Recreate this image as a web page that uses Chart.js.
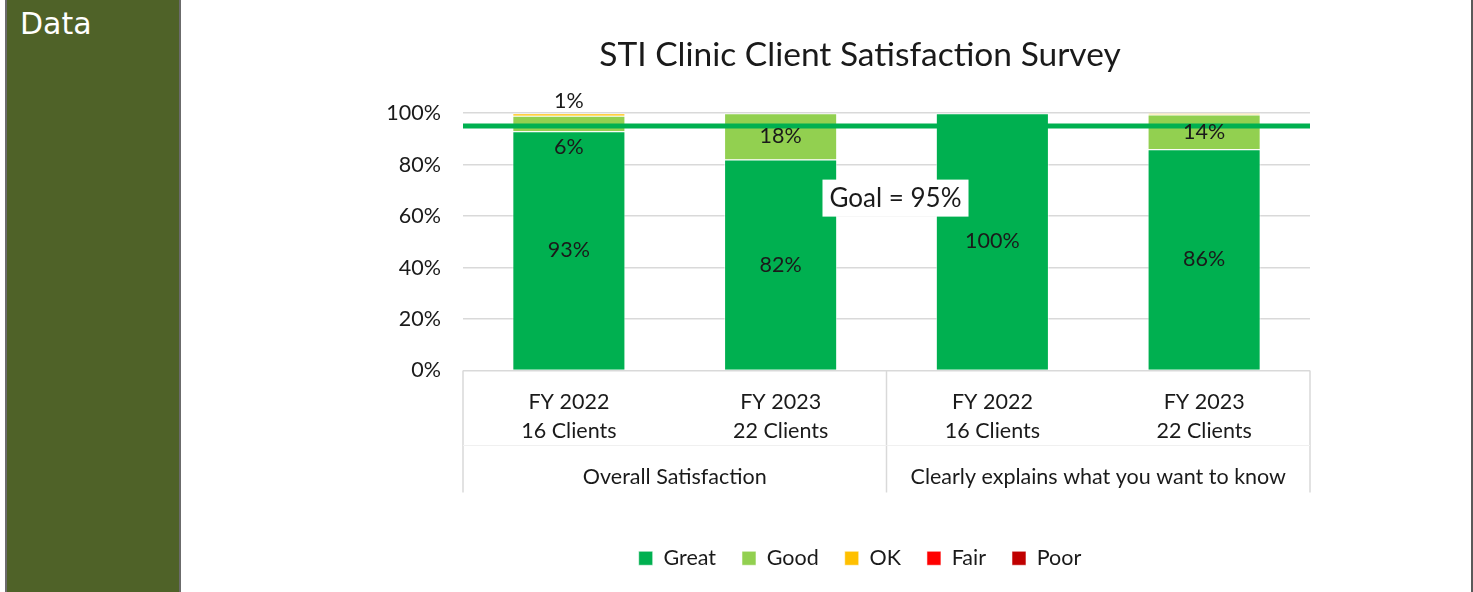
<!DOCTYPE html>
<html>
<head>
<meta charset="utf-8">
<script src="https://cdn.jsdelivr.net/npm/chart.js@4.4.1/dist/chart.umd.min.js"></script>
<style>
  html, body { margin: 0; padding: 0; background: #ffffff; }
  body { width: 1473px; height: 592px; position: relative; overflow: hidden; }
  #panel { position: absolute; left: 5px; top: 0; width: 172px; height: 592px; background: #4F6228;
           border-left: 2px solid #6b6b6b; border-right: 2px solid #6b6b6b; }
  #panel span { position: absolute; left: 13px; top: 6px; color: #ffffff; font-family: "DejaVu Sans", sans-serif; font-size: 30px; }
  #rightEdge { position: absolute; left: 1471px; top: 0; width: 2px; height: 592px; background: #5a5a5a; }
  #wrap { position: absolute; left: 250px; top: 0; width: 1220px; height: 592px; }
</style>
</head>
<body>
<div id="panel"><span>Data</span></div>
<div id="rightEdge"></div>
<div id="wrap"><canvas id="c"></canvas></div>
<script>
// ---- data ----
const categories = [["FY 2022", "16 Clients"], ["FY 2023", "22 Clients"], ["FY 2022", "16 Clients"], ["FY 2023", "22 Clients"]];
const groups = ["Overall Satisfaction", "Clearly explains what you want to know"];
const seriesNames = ["Great", "Good", "OK", "Fair", "Poor"];
const great = [93, 82, 100, 86];
const good  = [6, 18, 0, 13.5];
const ok    = [1, 0, 0, 0.5];
const fair  = [0, 0, 0, 0];
const poor  = [0, 0, 0, 0];
const goal = 95;
const goalLabel = "Goal = 95%";
const titleText = "STI Clinic Client Satisfaction Survey";

const colors = ["#00B050", "#92D050", "#FFC000", "#FF0000", "#C00000"];
const FONT = "Lato, 'Liberation Sans', sans-serif";
const TXT = "#1a1a1a";

const seriesValues = [great, good, ok, fair, poor];

const goalPlugin = {
  id: 'goalPlugin',
  afterDatasetsDraw(chart) {
    const { ctx, chartArea, scales } = chart;
    const y = scales.y.getPixelForValue(goal);
    ctx.save();
    ctx.strokeStyle = "#00B050";
    ctx.lineWidth = 5;
    ctx.beginPath();
    ctx.moveTo(chartArea.left, y);
    ctx.lineTo(chartArea.right, y);
    ctx.stroke();
    ctx.restore();
  }
};

const labelPlugin = {
  id: 'labelPlugin',
  afterDatasetsDraw(chart, args, opts) {
    const { ctx, scales } = chart;
    ctx.save();
    ctx.font = "21.5px " + FONT;
    ctx.fillStyle = TXT;
    ctx.textAlign = "center";
    ctx.textBaseline = "middle";
    chart.data.datasets.forEach((ds, di) => {
      const meta = chart.getDatasetMeta(di);
      meta.data.forEach((bar, i) => {
        const v = ds.data[i];
        if (!v || v < 1) return;
        let y;
        if (v < 3) {
          const total = seriesValues.reduce((s, arr) => s + arr[i], 0);
          y = scales.y.getPixelForValue(total) - 12;
        } else {
          y = (bar.y + bar.base) / 2;
        }
        const key = di + "-" + i;
        if (opts.nudge && opts.nudge[key]) y += opts.nudge[key];
        ctx.fillText(Math.round(v) + "%", bar.x, y);
      });
    });
    ctx.restore();
  }
};

const goalBoxPlugin = {
  id: 'goalBoxPlugin',
  afterDraw(chart, args, opts) {
    const { ctx, chartArea, scales } = chart;
    const cx = (chartArea.left + chartArea.right) / 2 + opts.dx;
    const cy = scales.y.getPixelForValue(opts.yValue);
    ctx.save();
    ctx.font = "26px " + FONT;
    const w = ctx.measureText(goalLabel).width + 14;
    const h = 37;
    ctx.fillStyle = "#ffffff";
    ctx.fillRect(cx - w / 2, cy - h / 2, w, h);
    ctx.fillStyle = TXT;
    ctx.textAlign = "center";
    ctx.textBaseline = "middle";
    ctx.fillText(goalLabel, cx, cy + 1);
    ctx.restore();
  }
};

const separatorPlugin = {
  id: 'separatorPlugin',
  afterDraw(chart) {
    const { ctx, chartArea, scales } = chart;
    const bottom = scales.x2.top + 38;
    const mid = (chartArea.left + chartArea.right) / 2;
    ctx.save();
    ctx.strokeStyle = "#d9d9d9";
    ctx.lineWidth = 1.5;
    [chartArea.left, mid, chartArea.right].forEach(x => {
      ctx.beginPath();
      ctx.moveTo(x, chartArea.bottom);
      ctx.lineTo(x, bottom);
      ctx.stroke();
    });
    ctx.strokeStyle = "#f0f0f0";
    ctx.lineWidth = 1;
    ctx.beginPath();
    ctx.moveTo(chartArea.left, scales.x.bottom - 9);
    ctx.lineTo(chartArea.right, scales.x.bottom - 9);
    ctx.stroke();
    ctx.restore();
  }
};

new Chart(document.getElementById('c'), {
  type: 'bar',
  data: {
    labels: categories,
    datasets: seriesNames.map((name, k) => ({
      label: name,
      data: seriesValues[k],
      backgroundColor: colors[k],
      borderColor: "rgba(255,255,255,0.55)",
      borderWidth: 1,
      barPercentage: 0.534,
      categoryPercentage: 1.0
    }))
  },
  options: {
    responsive: true,
    maintainAspectRatio: false,
    animation: false,
    layout: { padding: { left: 0, right: 0, top: 0, bottom: 13 } },
    plugins: {
      title: {
        display: true, text: titleText, color: TXT,
        font: { family: FONT, size: 33.5, weight: 'normal' },
        padding: { top: 35, bottom: 38 }
      },
      legend: {
        position: 'bottom',
        labels: {
          color: TXT, font: { family: FONT, size: 21.5 },
          boxWidth: 14, boxHeight: 14, padding: 26, useBorderRadius: false
        }
      },
      tooltip: { enabled: false },
      labelPlugin: { nudge: { "1-0": 24 } },
      goalBoxPlugin: { yValue: 67, dx: 9 }
    },
    scales: {
      x: {
        stacked: true,
        grid: { display: false },
        border: { display: false },
        ticks: { color: TXT, font: { family: FONT, size: 21.5, lineHeight: 1.35 }, padding: 9, maxRotation: 0 },
        afterFit: s => { s.height = 84; }
      },
      x2: {
        type: 'category',
        position: 'bottom',
        labels: groups,
        offset: true,
        grid: { display: false },
        border: { display: false },
        ticks: { color: TXT, font: { family: FONT, size: 21.5 }, padding: 2, maxRotation: 0 },
        afterFit: s => { s.height = 67; }
      },
      y: {
        stacked: true,
        min: 0, max: 100,
        ticks: { stepSize: 20, color: TXT, font: { family: FONT, size: 21.5 }, padding: 22, callback: v => v + "%" },
        grid: { color: "#d9d9d9", lineWidth: 1.5, drawTicks: false },
        border: { display: false },
        afterFit: s => { s.width = 213; }
      },
      yR: {
        position: 'right',
        display: true,
        ticks: { display: false },
        grid: { display: false },
        border: { display: false },
        afterFit: s => { s.width = 160; }
      }
    }
  },
  plugins: [goalPlugin, labelPlugin, goalBoxPlugin, separatorPlugin]
});
</script>
</body>
</html>
